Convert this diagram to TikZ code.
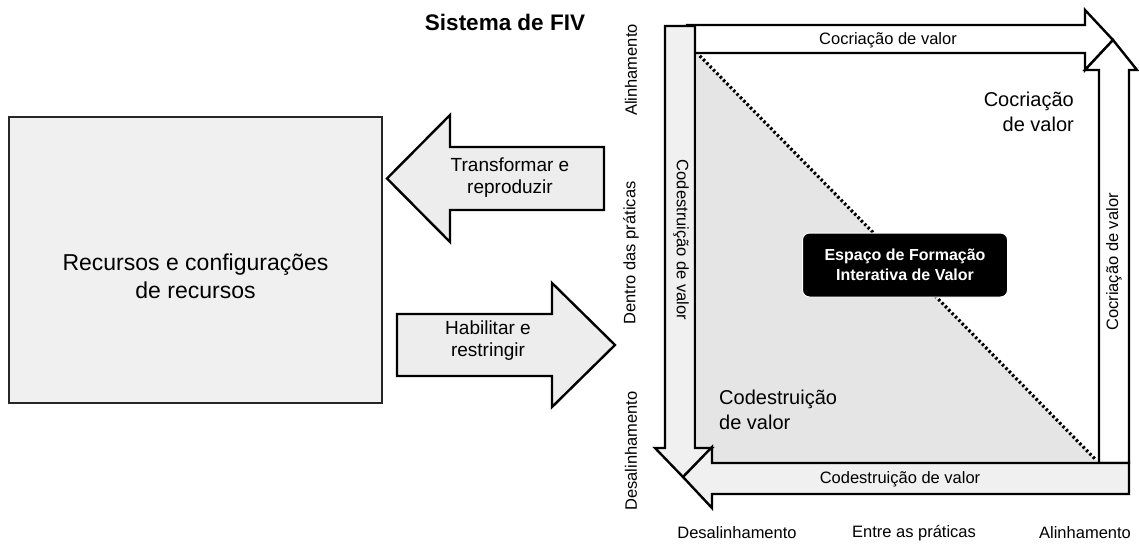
\documentclass[tikz,border=0pt]{standalone}
\usepackage{fontspec}
\setmainfont{Liberation Sans}
\begin{document}
\begin{tikzpicture}[x=1pt,y=-1pt,
  bigarrow/.style={draw=black,line width=2.4pt,line join=miter},
  lbl/.style={font=\fontsize{16.5}{20}\selectfont,inner sep=0pt},
  midlbl/.style={font=\fontsize{19}{22}\selectfont,align=center,inner sep=0pt},
  biglbl/.style={font=\fontsize{20}{25.5}\selectfont,inner sep=0pt}]
\useasboundingbox (0,0) rectangle (1139,543);

\node[font=\bfseries\fontsize{22.5}{26}\selectfont] (title) at (505,22) {Sistema de FIV};

\node[draw=black!85,line width=2pt,fill=black!6,minimum width=373pt,minimum height=286pt] (res) at (195.5,260) {};
\node[font=\fontsize{23}{28}\selectfont,align=center] (reslbl) at (195.5,276) {Recursos e configurações\\de recursos};

\draw[bigarrow,fill=black!7] (604,147) -- (450,147) -- (450,115) -- (387,178.5) -- (450,242) -- (450,210) -- (604,210) -- cycle;
\node[midlbl] (transf) at (510,178) {Transformar e\\reproduzir};
\draw[bigarrow,fill=black!7] (397,314) -- (552,314) -- (552,283) -- (615,345) -- (552,407) -- (552,376) -- (397,376) -- cycle;
\node[midlbl] (habil) at (488,341) {Habilitar e\\restringir};

\coordinate (tl) at (697,53);
\coordinate (br) at (1099,463);
\fill[black!10] (tl) -- (br) -- (697,463) -- cycle;
\draw[line width=3.2pt,dash pattern=on 2.4pt off 2.4pt,shorten <=4pt,shorten >=4pt] (tl) -- (br);

\draw[bigarrow,fill=white] (687,25) -- (1085,25) -- (1085,10) -- (1113,40) -- (1085,70) -- (1085,53) -- (687,53) -- cycle;
\draw[bigarrow,fill=white] (1099,463) -- (1099,70) -- (1085,70) -- (1113,40) -- (1137,70) -- (1129,70) -- (1129,463) -- cycle;
\draw[bigarrow,fill=black!6] (665,26) -- (695,26) -- (695,448) -- (712,448) -- (683,477) -- (655,448) -- (665,448) -- cycle;
\draw[bigarrow,fill=black!6] (1129,463) -- (1129,494) -- (712,494) -- (712,508) -- (683,477) -- (712,447) -- (712,463) -- cycle;

\node[lbl] (cotop) at (888,40) {Cocriação de valor};
\node[lbl,rotate=90] (coright) at (1114,262) {Cocriação de valor};
\node[lbl,rotate=-90] (codleft) at (681,240) {Codestruição de valor};
\node[lbl] (codbot) at (900,479) {Codestruição de valor};

\node[biglbl,anchor=east,align=right] (coin) at (1074,112) {Cocriação\\de valor};
\node[biglbl,anchor=west,align=left] (codin) at (719,410) {Codestruição\\de valor};

\node[fill=black,draw=white,line width=1pt,rounded corners=7pt,minimum width=205pt,minimum height=64pt,text=white,align=center,font=\bfseries\fontsize{16}{20}\selectfont] (fiv) at (905,265) {Espaço de Formação\\Interativa de Valor};

\node[lbl,rotate=90] (yhigh) at (631,70) {Alinhamento};
\node[lbl,rotate=90] (ymid) at (631,253) {Dentro das práticas};
\node[lbl,rotate=90] (ylow) at (631,451) {Desalinhamento};
\node[lbl] (xlow) at (737,533) {Desalinhamento};
\node[lbl] (xmid) at (914,533) {Entre as práticas};
\node[lbl] (xhigh) at (1085,533) {Alinhamento};
\end{tikzpicture}
\end{document}
